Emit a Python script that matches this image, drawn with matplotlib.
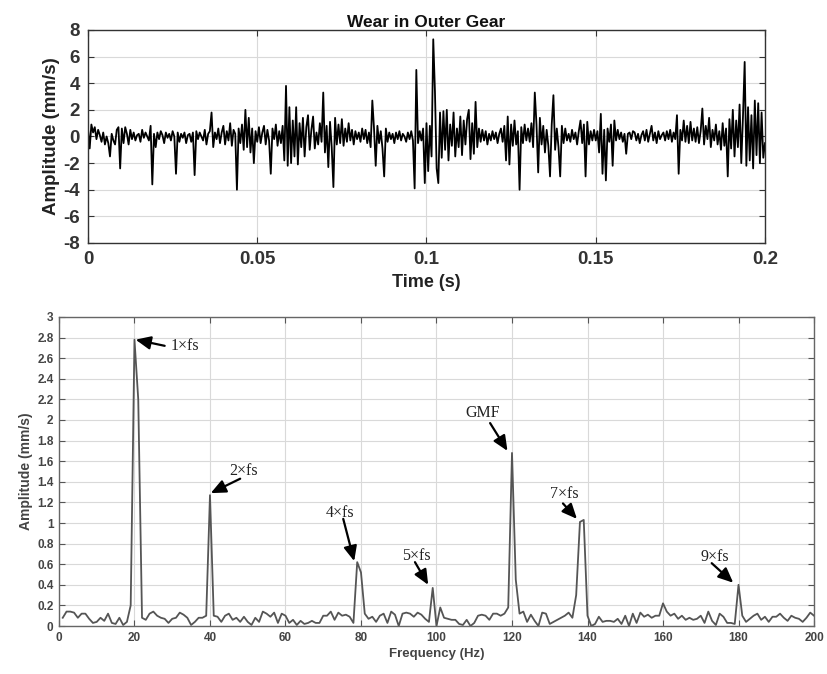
import numpy as np
import matplotlib
matplotlib.use("Agg")
import matplotlib.pyplot as plt

# vibration velocity, 0.5 ms per sample, 0 .. 0.2 s
velocity = [
    0.6, -0.9, 0.9, 0.3, 0.7, -0.2, 0.5, 0.1, -0.4, 0.3, -0.6, 0.0, -0.5, -1.5, 0.2, -0.3, -0.6, 0.5, 0.7, -2.4,
    0.6, -0.5, 0.7, 0.2, -0.6, 0.5, -0.2, 0.3, -0.3, 0.1, 0.2, -0.4, 0.5, -0.1, 0.3, 0.0, -0.3, 0.8, -3.6, 0.2,
    -0.8, 0.3, -0.2, 0.4, 0.1, -0.5, 0.3, -0.1, 0.2, -0.3, 0.4, 0.0, -2.8, 0.3, -0.4, 0.2, -0.1, 0.3, -0.5, 0.1,
    0.2, -0.4, 0.3, -2.9, 0.4, -0.2, 0.3, 0.0, -0.3, 0.5, -0.6, 0.2, 0.4, 1.8, -0.8, 0.3, -0.2, 0.6, -0.5, 0.3,
    0.8, -0.6, 0.4, -0.3, 1.0, -0.7, 0.5, 0.2, -4.0, 0.6, -0.5, 0.9, -1.0, 2.0, -0.8, 1.4, -1.2, 0.6, -2.0, 0.4,
    -0.4, 0.7, -0.5, 0.3, 0.8, -0.6, 0.5, -0.3, -2.8, 0.6, -0.2, 0.9, -0.7, 0.4, -0.5, 0.8, -1.8, 3.8, -2.2, 2.2,
    -2.0, 1.2, -1.5, 2.2, -2.1, 1.0, -0.8, 1.4, -1.5, 0.7, 1.6, -1.0, 0.5, 1.5, -0.9, 0.3, -0.6, 1.0, -0.4, 3.3,
    -1.2, 0.8, -2.3, 1.1, -0.8, -3.8, 1.4, -0.6, 0.9, -0.5, 1.3, -0.7, 0.6, -0.4, 1.0, -0.3, 0.5, -0.6, 0.4, -0.2,
    0.3, -0.4, 0.6, -0.2, 0.5, -0.5, 0.3, -0.8, 2.7, 0.6, -2.2, 0.8, -0.5, 0.4, -0.9, -3.0, 0.6, -0.4, 0.3, -0.2,
    0.2, -0.5, 0.3, -0.2, 0.4, -0.3, 0.2, 0.0, -0.4, 0.3, -0.2, 0.4, -0.3, -3.9, 5.0, -0.5, 0.4, -0.3, 0.6, -3.5,
    1.0, -2.6, 0.8, -1.5, 7.3, 3.4, -2.4, -3.5, 1.8, -1.6, 1.9, -1.0, 2.0, -1.8, 0.9, -0.7, 1.8, -1.5, 0.6, -0.8,
    1.5, -1.4, 1.2, -0.6, 1.3, 2.0, -1.7, 1.0, -1.3, 2.6, -0.8, 0.6, -0.4, 0.5, -0.3, 0.4, -0.6, 0.2, -0.3, 0.4,
    -0.2, 0.3, -0.5, 0.2, 0.6, -0.4, 0.8, -1.8, 1.5, -2.1, 0.9, -0.7, 1.2, -0.6, 0.4, -4.0, 0.7, -0.5, 0.9, -0.3,
    0.6, -0.4, 1.0, -0.8, 3.3, 0.9, -2.7, 1.4, -0.6, 0.8, -1.2, 0.5, -0.7, -3.0, 0.9, 3.1, -1.0, 0.6, -0.8, -3.0,
    0.8, -0.5, 0.6, -0.3, 0.2, -0.4, 0.5, -0.2, 0.3, -0.6, 0.4, 1.2, -0.5, 0.9, -3.0, 1.1, -0.6, 0.4, -0.3, 0.5,
    -0.3, 0.4, -1.2, 1.7, -2.8, 0.5, -3.3, 0.6, -0.4, 0.9, -2.2, 1.2, -0.3, 0.5, -0.2, 0.3, -0.4, 0.2, -1.3, 0.2,
    0.3, -0.2, 0.4, 0.3, -0.3, 0.2, -0.5, 0.1, 0.4, -0.3, 0.5, -0.4, 0.2, 0.8, -0.3, 0.3, -0.5, 0.4, -0.2, 0.1,
    0.3, -0.3, 0.4, -0.2, 0.5, -0.4, 0.3, -0.2, 1.6, -2.8, 0.5, -0.3, 1.2, -0.4, 0.8, -0.5, 1.1, -0.3, 0.6, -0.4,
    0.7, -0.5, 0.4, 2.1, -0.6, 0.8, -0.2, 1.4, -0.8, 0.5, -0.3, 0.9, -0.6, 0.4, -1.0, 1.0, -0.7, 0.6, -3.0, 1.3,
    -0.9, 2.0, -1.5, 1.2, -0.8, 2.4, -2.0, 1.5, 5.6, -2.2, 2.2, -1.8, 1.6, -2.4, 2.7, -1.4, 2.5, -2.0, 1.8, -1.6,
    -0.5,
]

# amplitude spectrum, 1 Hz bins from 1 to 200 Hz
spectrum = [
    0.08, 0.14, 0.14, 0.13, 0.08, 0.12, 0.12, 0.07, 0.03, 0.04, 0.08, 0.05, 0.12, 0.03, 0.02, 0.08, 0.01, 0.04, 0.20, 2.78,
    2.20, 0.08, 0.06, 0.12, 0.14, 0.10, 0.08, 0.07, 0.03, 0.07, 0.08, 0.13, 0.11, 0.08, 0.01, 0.04, 0.08, 0.08, 0.10, 1.27,
    0.10, 0.09, 0.04, 0.10, 0.12, 0.06, 0.08, 0.04, 0.09, 0.04, 0.01, 0.08, 0.04, 0.14, 0.12, 0.09, 0.13, 0.03, 0.12, 0.10,
    0.03, 0.06, 0.01, 0.05, 0.02, 0.03, 0.05, 0.03, 0.03, 0.10, 0.10, 0.14, 0.06, 0.13, 0.10, 0.11, 0.09, 0.03, 0.62, 0.52,
    0.12, 0.07, 0.09, 0.04, 0.10, 0.12, 0.03, 0.14, 0.11, 0.00, 0.12, 0.13, 0.12, 0.09, 0.13, 0.11, 0.07, 0.04, 0.37, 0.00,
    0.18, 0.08, 0.07, 0.06, 0.06, 0.02, 0.01, 0.06, 0.00, 0.03, 0.10, 0.11, 0.10, 0.06, 0.12, 0.12, 0.10, 0.12, 0.18, 1.68,
    0.45, 0.12, 0.14, 0.04, 0.11, 0.05, 0.00, 0.13, 0.12, 0.02, 0.04, 0.06, 0.08, 0.10, 0.13, 0.08, 0.30, 1.01, 1.03, 0.10,
    0.00, 0.02, 0.09, 0.04, 0.05, 0.05, 0.04, 0.07, 0.02, 0.10, 0.00, 0.12, 0.03, 0.13, 0.09, 0.11, 0.08, 0.10, 0.10, 0.22,
    0.14, 0.10, 0.12, 0.07, 0.10, 0.06, 0.08, 0.06, 0.07, 0.10, 0.03, 0.14, 0.05, 0.01, 0.12, 0.09, 0.03, 0.03, 0.02, 0.40,
    0.10, 0.04, 0.07, 0.10, 0.12, 0.06, 0.09, 0.04, 0.09, 0.09, 0.12, 0.08, 0.05, 0.10, 0.08, 0.07, 0.04, 0.08, 0.13, 0.10,
]

# peak labels: text position, arrow tail, arrow head (data units)
labels = ["1×fs", "2×fs", "4×fs", "5×fs", "GMF", "7×fs", "9×fs"]
label_xy = [(33.5, 2.72), (49.0, 1.50), (74.4, 1.10), (94.8, 0.68), (112.2, 2.07), (133.8, 1.28), (173.8, 0.67)]
tail_xy = [(28.0, 2.72), (48.0, 1.43), (75.3, 1.04), (94.3, 0.62), (114.2, 1.97), (133.5, 1.19), (172.9, 0.61)]
head_xy = [(20.3, 2.78), (40.2, 1.29), (78.2, 0.63), (97.8, 0.40), (118.8, 1.70), (137.2, 1.04), (178.6, 0.42)]

t = np.linspace(0, 0.2, len(velocity))
freq = np.arange(1, len(spectrum) + 1)

fig = plt.figure(figsize=(8.27, 6.74), dpi=100)
sans = ["Liberation Sans", "DejaVu Sans"]
serif = ["Liberation Serif", "DejaVu Serif"]
grid_kw = dict(color="#d9d9d9", linewidth=0.8)

# time waveform
ax1 = fig.add_axes([0.1064, 0.6395, 0.8186, 0.316])
ax1.plot(t, velocity, color="black", linewidth=1.3)
ax1.set_xlim(0, 0.2)
ax1.set_ylim(-8, 8)
ax1.set_xticks([0, 0.05, 0.1, 0.15, 0.2])
ax1.set_xticklabels(["0", "0.05", "0.1", "0.15", "0.2"])
ax1.set_yticks(np.arange(-8, 9, 2))
ax1.set_yticklabels([str(v) for v in range(-8, 9, 2)])
ax1.grid(True, **grid_kw)
ax1.set_axisbelow(True)
ax1.tick_params(direction="in", top=True, right=True, length=4, width=0.8, colors="#333333", pad=6)
for lab in ax1.get_xticklabels() + ax1.get_yticklabels():
    lab.set_fontfamily(sans)
    lab.set_fontweight("bold")
    lab.set_fontsize(13.5)
for sp in ax1.spines.values():
    sp.set_color("#333333")
    sp.set_linewidth(1.0)
ax1.set_title("Wear in Outer Gear", fontfamily=sans, fontweight="bold", fontsize=12.5, color="#111111", pad=2)
ax1.set_xlabel("Time (s)", fontfamily=sans, fontweight="bold", fontsize=13, color="#222222", labelpad=4)
ax1.set_ylabel("Amplitude (mm/s)", fontfamily=sans, fontweight="bold", fontsize=13.5, color="#222222", labelpad=2)

# amplitude spectrum
ax2 = fig.add_axes([0.0713, 0.0712, 0.913, 0.4585])
ax2.plot(freq, spectrum, color="#555555", linewidth=1.3)
ax2.set_xlim(0, 200)
ax2.set_ylim(0, 3)
ax2.set_xticks(np.arange(0, 201, 20))
ax2.set_yticks(np.arange(0, 3.01, 0.2))
ax2.set_yticklabels(["%g" % round(v, 1) for v in np.arange(0, 3.01, 0.2)])
ax2.grid(True, **grid_kw)
ax2.set_axisbelow(True)
ax2.tick_params(direction="in", top=True, right=True, length=4, width=0.8, colors="#555555", pad=4)
for lab in ax2.get_xticklabels() + ax2.get_yticklabels():
    lab.set_fontfamily(sans)
    lab.set_fontweight("bold")
    lab.set_fontsize(8.5)
    lab.set_color("#444444")
for sp in ax2.spines.values():
    sp.set_color("#666666")
    sp.set_linewidth(1.0)
ax2.set_xlabel("Frequency (Hz)", fontfamily=sans, fontweight="bold", fontsize=9.5, color="#444444", labelpad=3)
ax2.set_ylabel("Amplitude (mm/s)", fontfamily=sans, fontweight="bold", fontsize=10, color="#444444", labelpad=3)

for name, txy, tail, head in zip(labels, label_xy, tail_xy, head_xy):
    ax2.annotate("", xy=head, xytext=tail,
                 arrowprops=dict(arrowstyle="-|>,head_length=0.9,head_width=0.4", color="black", lw=1.6,
                                 shrinkA=0, shrinkB=0))
    ax2.text(txy[0], txy[1], name, fontfamily=serif, fontsize=11.5, color="#222222",
             ha="center", va="center")

fig.savefig("out.png", dpi=100)
